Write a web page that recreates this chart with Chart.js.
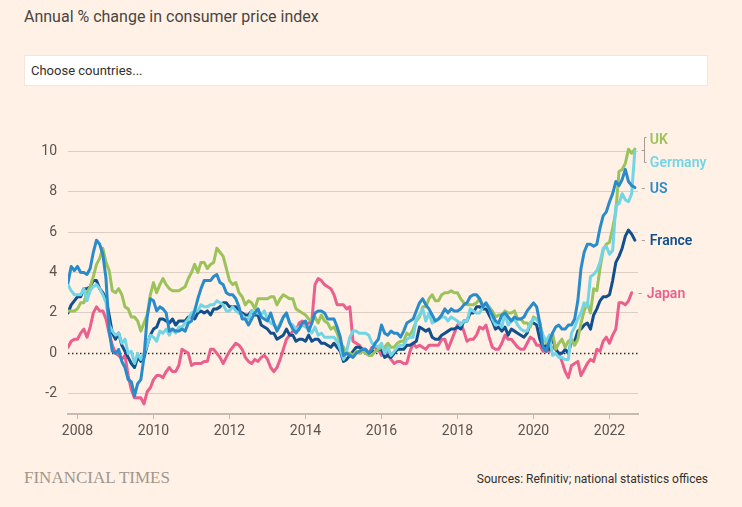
<!DOCTYPE html>
<html>
<head>
<meta charset="utf-8">
<script src="https://cdn.jsdelivr.net/npm/chart.js"></script>
<style>
html,body{margin:0;padding:0;background:#fff1e5;width:742px;height:507px;overflow:hidden;font-family:Roboto,"Noto Sans",sans-serif;}
#title{position:absolute;left:24px;top:7px;font-size:16px;line-height:19px;color:#4a4541;white-space:nowrap;}
#box{position:absolute;left:24px;top:55px;width:684px;height:31px;background:#fff;border:1px solid #f3e6db;box-sizing:border-box;}
#box span{position:absolute;left:6px;top:0;line-height:30px;font-size:13px;color:#33302e;}
#wrap{position:absolute;left:0;top:100px;width:742px;height:345px;}
#ft{position:absolute;left:24px;top:468px;font-family:"Liberation Serif","DejaVu Serif",serif;font-size:17px;line-height:20px;color:#a1968d;white-space:nowrap;}
#src{position:absolute;right:34px;top:472px;font-size:12px;line-height:15px;color:#33302e;white-space:nowrap;}
</style>
</head>
<body>
<div id="title">Annual % change in consumer price index</div>
<div id="box"><span>Choose countries...</span></div>
<div id="wrap"><canvas id="c" width="742" height="345"></canvas></div>
<div id="ft">FINANCIAL TIMES</div>
<div id="src">Sources: Refinitiv; national statistics offices</div>
<script>
// ---- categories: monthly observations from October 2007 ----
const startYear = 2007, startMonth = 10, nMonths = 180;
const months = Array.from({length: nMonths}, (_, i) => {
  const m = startMonth - 1 + i;
  return (startYear + Math.floor(m / 12)) + '-' + String(m % 12 + 1).padStart(2, '0');
});

// ---- tick labels ----
const xTicks = [2008, 2010, 2012, 2014, 2016, 2018, 2020, 2022];
const yTicks = [-2, 0, 2, 4, 6, 8, 10];

// ---- series values (annual % change), Oct 2007 onwards ----
const uk = [
  2.1, 2.1, 2.1,
  2.2, 2.5, 2.5, 3.0, 3.3, 3.8, 4.4, 4.7, 5.2, 4.5, 4.1, 3.1,
  3.0, 3.2, 2.9, 2.3, 2.2, 1.8, 1.8, 1.6, 1.1, 1.5, 1.9, 2.9,
  3.5, 3.0, 3.4, 3.7, 3.4, 3.2, 3.1, 3.1, 3.1, 3.2, 3.3, 3.7,
  4.0, 4.4, 4.0, 4.5, 4.5, 4.2, 4.4, 4.5, 5.2, 5.0, 4.8, 4.2,
  3.6, 3.4, 3.5, 3.0, 2.8, 2.4, 2.6, 2.5, 2.2, 2.7, 2.7, 2.7,
  2.7, 2.8, 2.8, 2.4, 2.7, 2.9, 2.8, 2.7, 2.7, 2.2, 2.1, 2.0,
  1.9, 1.7, 1.6, 1.8, 1.5, 1.9, 1.6, 1.5, 1.2, 1.3, 1.0, 0.5,
  0.3, 0.0, 0.0, -0.1, 0.1, 0.0, 0.1, 0.0, -0.1, -0.1, 0.1, 0.2,
  0.3, 0.3, 0.5, 0.3, 0.3, 0.5, 0.6, 0.6, 1.0, 0.9, 1.2, 1.6,
  1.8, 2.3, 2.3, 2.7, 2.9, 2.6, 2.6, 2.9, 3.0, 3.0, 3.1, 3.0,
  3.0, 2.7, 2.5, 2.4, 2.4, 2.4, 2.5, 2.7, 2.4, 2.4, 2.3, 2.1,
  1.8, 1.9, 1.9, 2.1, 2.0, 2.0, 2.1, 1.7, 1.7, 1.5, 1.5, 1.3,
  1.8, 1.7, 1.5, 0.8, 0.5, 0.6, 1.0, 0.2, 0.5, 0.7, 0.3, 0.6,
  0.7, 0.4, 0.7, 1.5, 2.1, 2.5, 2.0, 3.2, 3.1, 4.2, 5.1, 5.4,
  5.5, 6.2, 7.0, 9.0, 9.1, 9.4, 10.1, 9.9, 10.1
];
const germany = [
  3.4, 3.1, 2.9,
  2.9, 2.9, 3.2, 2.6, 3.1, 3.3, 3.4, 3.2, 2.9, 2.5, 1.4, 1.1,
  0.9, 1.0, 0.5, 0.7, 0.0, 0.1, -0.5, 0.0, -0.3, 0.0, 0.4, 0.9,
  0.8, 0.6, 1.1, 1.0, 1.2, 0.9, 1.2, 1.0, 1.3, 1.3, 1.5, 1.7,
  2.0, 2.1, 2.1, 2.4, 2.3, 2.3, 2.4, 2.4, 2.6, 2.5, 2.4, 2.1,
  2.1, 2.3, 2.1, 2.0, 1.9, 1.7, 1.7, 2.1, 2.0, 2.0, 1.9, 2.1,
  1.7, 1.5, 1.4, 1.2, 1.5, 1.8, 1.9, 1.5, 1.4, 1.2, 1.3, 1.4,
  1.3, 1.2, 1.0, 1.3, 0.9, 1.0, 0.8, 0.8, 0.8, 0.8, 0.6, 0.2,
  -0.3, 0.1, 0.8, 1.1, 1.1, 1.0, 1.0, 1.0, 0.9, 0.5, 0.4, 0.3,
  0.5, 0.0, 0.3, -0.1, 0.1, 0.3, 0.4, 0.4, 0.7, 0.8, 0.8, 1.7,
  1.9, 2.2, 1.6, 2.0, 1.5, 1.6, 1.7, 1.8, 1.8, 1.6, 1.8, 1.7,
  1.6, 1.4, 1.6, 1.6, 2.2, 2.1, 2.0, 2.0, 2.3, 2.5, 2.3, 1.7,
  1.4, 1.5, 1.3, 2.0, 1.4, 1.6, 1.7, 1.4, 1.2, 1.1, 1.1, 1.5,
  1.7, 1.7, 1.4, 0.9, 0.6, 0.9, -0.1, 0.0, -0.2, -0.2, -0.3, -0.3,
  1.0, 1.3, 1.7, 2.0, 2.5, 2.3, 3.8, 3.9, 4.1, 4.5, 5.2, 5.3,
  4.9, 5.1, 7.3, 7.4, 7.9, 7.6, 7.5, 7.9, 10.0
];
const us = [
  3.5, 4.3, 4.1,
  4.3, 4.0, 4.0, 3.9, 4.2, 5.0, 5.6, 5.4, 4.9, 3.7, 1.1, 0.1,
  0.0, 0.2, -0.4, -0.7, -1.3, -1.4, -2.1, -1.5, -1.3, -0.2, 1.8, 2.7,
  2.6, 2.1, 2.3, 2.2, 2.0, 1.1, 1.2, 1.1, 1.1, 1.2, 1.1, 1.5,
  1.6, 2.1, 2.7, 3.2, 3.6, 3.6, 3.6, 3.8, 3.9, 3.5, 3.4, 3.0,
  2.9, 2.9, 2.7, 2.3, 1.7, 1.7, 1.4, 1.7, 2.0, 2.2, 1.8, 1.7,
  1.6, 2.0, 1.5, 1.1, 1.4, 1.8, 2.0, 1.5, 1.2, 1.0, 1.2, 1.5,
  1.6, 1.1, 1.5, 2.0, 2.1, 2.1, 2.0, 1.7, 1.7, 1.7, 1.3, 0.8,
  -0.1, 0.0, -0.1, -0.2, 0.0, 0.1, 0.2, 0.2, 0.0, 0.2, 0.5, 0.7,
  1.4, 1.0, 0.9, 1.1, 1.0, 1.0, 0.8, 1.1, 1.5, 1.6, 1.7, 2.1,
  2.5, 2.7, 2.4, 2.2, 1.9, 1.6, 1.7, 1.9, 2.2, 2.0, 2.2, 2.1,
  2.1, 2.2, 2.4, 2.5, 2.8, 2.9, 2.9, 2.7, 2.3, 2.5, 2.2, 1.9,
  1.6, 1.5, 1.9, 2.0, 1.8, 1.6, 1.8, 1.7, 1.7, 1.8, 2.1, 2.3,
  2.5, 2.3, 1.5, 0.3, 0.1, 0.6, 1.0, 1.3, 1.4, 1.2, 1.2, 1.4,
  1.4, 1.7, 2.6, 4.2, 5.0, 5.4, 5.4, 5.3, 5.4, 6.2, 6.8, 7.0,
  7.5, 7.9, 8.5, 8.3, 8.6, 9.1, 8.5, 8.3, 8.2
];
const france = [
  2.0, 2.4, 2.6,
  2.8, 2.8, 3.2, 3.2, 3.3, 3.6, 3.6, 3.2, 3.0, 2.7, 1.9, 1.0,
  0.7, 1.0, 0.4, 0.1, -0.2, -0.5, -0.7, -0.2, -0.4, -0.2, 0.4, 0.9,
  1.2, 1.3, 1.7, 1.7, 1.6, 1.5, 1.7, 1.4, 1.6, 1.6, 1.6, 1.8,
  1.8, 1.7, 2.0, 2.1, 2.0, 2.1, 1.9, 2.2, 2.2, 2.3, 2.5, 2.5,
  2.3, 2.3, 2.3, 2.1, 2.0, 1.9, 1.9, 2.1, 1.9, 1.9, 1.4, 1.3,
  1.2, 1.0, 1.0, 0.7, 0.8, 0.9, 1.2, 0.9, 0.9, 0.6, 0.7, 0.7,
  0.6, 0.9, 0.6, 0.7, 0.7, 0.5, 0.5, 0.4, 0.3, 0.5, 0.3, 0.1,
  -0.4, -0.3, -0.1, 0.1, 0.3, 0.3, 0.2, 0.0, 0.0, 0.1, 0.1, 0.2,
  0.2, -0.2, -0.1, -0.2, 0.0, 0.2, 0.2, 0.2, 0.4, 0.4, 0.5, 0.6,
  1.3, 1.2, 1.1, 1.2, 0.8, 0.7, 0.7, 0.9, 1.0, 1.1, 1.2, 1.2,
  1.3, 1.2, 1.6, 1.6, 2.0, 2.0, 2.3, 2.3, 2.2, 2.2, 1.9, 1.6,
  1.2, 1.3, 1.1, 1.3, 0.9, 1.2, 1.1, 1.0, 0.9, 0.8, 1.0, 1.5,
  1.5, 1.4, 0.7, 0.3, 0.4, 0.2, 0.8, 0.2, 0.0, 0.0, 0.2, 0.0,
  0.6, 0.6, 1.1, 1.2, 1.4, 1.5, 1.2, 1.9, 2.2, 2.6, 2.8, 2.8,
  2.9, 3.6, 4.5, 4.8, 5.2, 5.8, 6.1, 5.9, 5.6
];
const japan = [
  0.3, 0.6, 0.7,
  0.7, 1.0, 1.2, 0.8, 1.3, 2.0, 2.3, 2.1, 2.1, 1.7, 1.0, 0.4,
  0.0, -0.1, -0.3, -0.1, -1.1, -1.8, -2.2, -2.2, -2.2, -2.5, -1.9, -1.7,
  -1.3, -1.1, -1.1, -1.2, -0.9, -0.7, -0.9, -0.9, -0.6, 0.2, 0.1, 0.0,
  -0.6, -0.5, -0.5, -0.5, -0.4, -0.4, 0.2, 0.2, 0.0, -0.2, -0.5, -0.2,
  0.1, 0.3, 0.5, 0.4, 0.2, -0.2, -0.4, -0.5, -0.3, -0.4, -0.2, -0.1,
  -0.3, -0.7, -0.9, -0.7, -0.3, 0.2, 0.7, 0.9, 1.1, 1.1, 1.5, 1.6,
  1.4, 1.5, 1.6, 3.4, 3.7, 3.6, 3.4, 3.3, 3.2, 2.9, 2.4, 2.4,
  2.4, 2.2, 2.3, 0.6, 0.5, 0.4, 0.2, 0.2, 0.0, 0.3, 0.3, 0.2,
  -0.1, 0.3, -0.1, -0.3, -0.5, -0.4, -0.4, -0.5, -0.5, 0.1, 0.5, 0.3,
  0.4, 0.3, 0.2, 0.4, 0.4, 0.4, 0.4, 0.7, 0.7, 0.2, 0.6, 1.0,
  1.4, 1.5, 1.1, 0.6, 0.7, 0.7, 0.9, 1.3, 1.2, 1.4, 0.8, 0.3,
  0.2, 0.2, 0.5, 0.9, 0.7, 0.7, 0.5, 0.3, 0.2, 0.2, 0.5, 0.8,
  0.7, 0.4, 0.4, 0.1, 0.1, 0.1, 0.3, 0.2, 0.0, -0.4, -0.9, -1.2,
  -0.6, -0.5, -0.4, -1.1, -0.8, -0.5, -0.3, -0.4, 0.2, 0.1, 0.6, 0.8,
  0.5, 0.9, 1.2, 2.5, 2.5, 2.4, 2.6, 3.0
];

// ---- presentation ----
const names  = ['US', 'Germany', 'UK', 'France', 'Japan'];
const values = [us, germany, uk, france, japan];
const colors = ['#2a8bcb', '#72d5e6', '#9cc25b', '#12508d', '#eb5f8c'];
const labelDy = [0, 11, -10, 0, 0];   // label nudges in px

function monthToX(s) { const [y, m] = s.split('-').map(Number); return y + (m - 1) / 12; }

const datasets = values.map((arr, i) => ({
  label: names[i],
  data: arr.map((v, j) => ({x: monthToX(months[j]), y: v})),
  borderColor: colors[i],
  backgroundColor: colors[i],
  borderWidth: 3,
  pointRadius: 0,
  tension: 0,
  borderJoinStyle: 'round',
  borderCapStyle: 'round',
  order: i,
  labelDy: labelDy[i]
}));

const zeroLine = {
  id: 'zeroLine',
  beforeDatasetsDraw(chart) {
    const {ctx, chartArea: a, scales: {y}} = chart;
    const py = Math.round(y.getPixelForValue(0)) + 0.5;
    ctx.save();
    ctx.strokeStyle = '#33302e';
    ctx.lineWidth = 1.5;
    ctx.setLineDash([1.5, 2.5]);
    ctx.beginPath(); ctx.moveTo(a.left, py); ctx.lineTo(a.right, py); ctx.stroke();
    ctx.restore();
  }
};

const endLabels = {
  id: 'endLabels',
  afterDatasetsDraw(chart) {
    const ctx = chart.ctx;
    ctx.save();
    ctx.font = '600 14px Roboto, "Noto Sans", sans-serif';
    ctx.textBaseline = 'middle';
    ctx.textAlign = 'left';
    const pts = {};
    chart.data.datasets.forEach((ds, i) => {
      const meta = chart.getDatasetMeta(i);
      const last = meta.data[meta.data.length - 1];
      pts[ds.label] = {x: last.x, y: last.y, ly: last.y + ds.labelDy, color: ds.borderColor};
    });
    ctx.strokeStyle = '#a69c94';
    ctx.lineWidth = 1;
    ['US', 'France', 'Japan'].forEach(n => {
      const p = pts[n];
      const yy = Math.round(p.ly) + 0.5;
      ctx.beginPath(); ctx.moveTo(p.x + 7, yy); ctx.lineTo(p.x + 10, yy); ctx.stroke();
    });
    const u = pts['UK'], g = pts['Germany'];
    const bx = Math.round(Math.max(u.x, g.x) + 9) + 0.5;
    const top = Math.round(u.ly - 2) + 0.5, bot = Math.round(g.ly) + 0.5;
    const mid = Math.round((u.y + g.y) / 2) + 0.5;
    ctx.beginPath();
    ctx.moveTo(bx + 2, top); ctx.lineTo(bx, top); ctx.lineTo(bx, bot); ctx.lineTo(bx + 2, bot);
    ctx.moveTo(bx - 3, mid); ctx.lineTo(bx, mid);
    ctx.stroke();
    Object.keys(pts).forEach(n => {
      const p = pts[n];
      ctx.fillStyle = p.color;
      ctx.fillText(n, p.x + 15, p.ly + 1.5);
    });
    ctx.restore();
  }
};

const tickFont = {family: 'Roboto, "Noto Sans", sans-serif', size: 14};

new Chart(document.getElementById('c').getContext('2d'), {
  type: 'line',
  data: {datasets},
  options: {
    responsive: false,
    animation: false,
    devicePixelRatio: 1,
    layout: {padding: {left: 0, right: 104, top: 31, bottom: 0}},
    plugins: {legend: {display: false}, tooltip: {enabled: false}},
    scales: {
      x: {
        type: 'linear', min: 2007.75, max: 2022.75,
        afterBuildTicks: s => { s.ticks = xTicks.map(v => ({value: v})); },
        afterFit: s => { s.height = 31; },
        grid: {drawOnChartArea: false, drawTicks: true, tickLength: 5, color: '#c6bbb1', lineWidth: 1},
        border: {display: true, color: '#c6bbb1', width: 2},
        ticks: {font: tickFont, color: '#5a5450', padding: 4, autoSkip: false, maxRotation: 0, callback: v => String(v)}
      },
      y: {
        min: -3, max: 11,
        afterBuildTicks: s => { s.ticks = yTicks.map(v => ({value: v})); },
        afterFit: s => { s.width = 68; },
        grid: {drawTicks: false, lineWidth: 1, color: c => (c.tick && c.tick.value === 0) ? 'rgba(0,0,0,0)' : '#dbcec4'},
        border: {display: false},
        ticks: {font: tickFont, color: '#5a5450', padding: 11, callback: v => String(v)}
      }
    }
  },
  plugins: [zeroLine, endLabels]
});
</script>
</body>
</html>
